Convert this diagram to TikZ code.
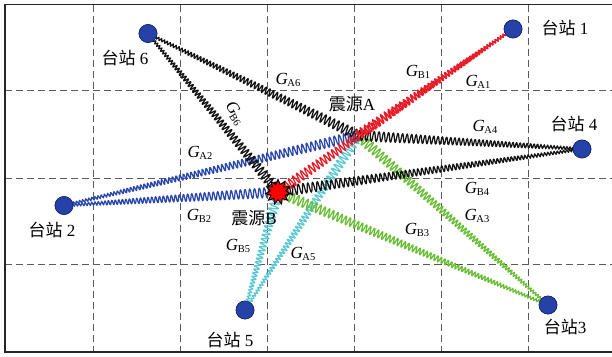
\documentclass[tikz,border=0pt]{standalone}
\usepackage{fontspec}
\setmainfont{Liberation Serif}
\newfontfamily\cjk{Noto Sans CJK SC}
\usetikzlibrary{decorations,shapes.geometric}
\pgfkeys{/pgf/decoration/end amplitude/.initial=1pt}
\newcommand\tapcalc{%
  \pgfmathsetmacro\tapfrac{\pgfdecoratedcompleteddistance/\pgfdecoratedpathlength}%
  \pgfmathsetlengthmacro\tapamp{\pgfdecorationsegmentamplitude+(\pgfkeysvalueof{/pgf/decoration/end amplitude}-\pgfdecorationsegmentamplitude)*\tapfrac}%
  \pgfmathsetlengthmacro\tapw{0.5*\pgfdecorationsegmentlength*(1-0.4*\tapfrac)}%
}
\pgfdeclaredecoration{taperwave}{up}{%
  \state{up}[width=0.5*\pgfdecorationsegmentlength*(1-0.4*\pgfdecoratedcompleteddistance/\pgfdecoratedpathlength), next state=down]{%
    \tapcalc
    \pgfpathcurveto{\pgfpoint{0.3*\tapw}{1.333*\tapamp}}{\pgfpoint{0.7*\tapw}{1.333*\tapamp}}{\pgfpoint{\tapw}{0pt}}%
  }%
  \state{down}[width=0.5*\pgfdecorationsegmentlength*(1-0.4*\pgfdecoratedcompleteddistance/\pgfdecoratedpathlength), next state=up]{%
    \tapcalc
    \pgfpathcurveto{\pgfpoint{0.3*\tapw}{-1.333*\tapamp}}{\pgfpoint{0.7*\tapw}{-1.333*\tapamp}}{\pgfpoint{\tapw}{0pt}}%
  }%
  \state{final}{\pgfpathlineto{\pgfpointdecoratedpathlast}}%
}
\definecolor{wred}{RGB}{232,28,40}
\definecolor{wblue}{RGB}{42,72,172}
\definecolor{wgreen}{RGB}{104,190,52}
\definecolor{wcyan}{RGB}{92,200,212}
\definecolor{wblack}{RGB}{20,20,20}
\definecolor{stfill}{RGB}{36,66,168}
\definecolor{stedge}{RGB}{24,40,110}
\definecolor{gridc}{RGB}{90,90,90}
\newcommand\gl[1]{\textit{G}\kern-0.5pt\raisebox{-0.35ex}{\fontsize{10.5}{10.5}\selectfont #1}}
\tikzset{
  spring/.style={line width=1.25pt, line join=round,
    decorate, decoration={taperwave, amplitude=5.3pt, segment length=5pt, end amplitude=1.2pt}},
  station/.style={circle, fill=stfill, draw=stedge, line width=0.6pt, minimum size=18pt, inner sep=0pt},
  burst/.style={star, star points=11, star point ratio=1.6, fill=red, draw=black, line width=1pt, minimum size=25pt, inner sep=0pt},
  gridline/.style={gridc, line width=0.7pt, dash pattern=on 7pt off 4pt},
  lab/.style={font=\fontsize{17}{17}\selectfont, inner sep=0pt},
  glab/.style={font=\fontsize{17}{17}\selectfont, inner sep=0pt}
}
\begin{document}
\begin{tikzpicture}[x=1pt,y=-1pt]
\useasboundingbox (0,0) rectangle (612,356);
\fill[white] (0,0) rectangle (612,356);
% grid
\foreach \gx in {93.7,180.3,267.8,354.4,441,528.5}
  \draw[gridline] (\gx,4.5) -- (\gx,352);
\foreach \gy in {90.3,178,264.7}
  \draw[gridline] (5,\gy) -- (612,\gy);
% frame
\draw[line width=1.1pt, black!85] (612,4.5) -- (5,4.5) -- (5,352) -- (612,352);
% nodes
\coordinate (A) at (358,135.5);
\coordinate (B) at (278,192);
\node[station] (s1) at (513,29) {};
\node[station] (s2) at (64,205.5) {};
\node[station] (s3) at (548,305) {};
\node[station] (s4) at (582,149) {};
\node[station] (s5) at (245,310) {};
\node[station] (s6) at (148,33.5) {};
% springs
\draw[spring, wcyan] (A) -- (s5.center);
\draw[spring, wcyan] (B) -- (s5.center);
\draw[spring, wgreen] (A) -- (s3.center);
\draw[spring, wgreen] (B) -- (s3.center);
\draw[spring, wblue] (A) -- (s2.center);
\draw[spring, wblue] (B) -- (s2.center);
\draw[spring, wblack] (A) -- (s6.center);
\draw[spring, wblack] (B) -- (s6.center);
\draw[spring, wblack] (A) -- (s4.center);
\draw[spring, wblack] (B) -- (s4.center);
\draw[spring, wred] (B) -- (s1.center);
\draw[spring, wred] (A) -- (s1.center);
% redraw stations on top
\foreach \s in {s1,s2,s3,s4,s5,s6}
  \node[station] at (\s) {};
\node[burst] (Bb) at (B) {};
% labels
\node[lab] (l1) at (565,28) {{\cjk 台站} 1};
\node[lab] (l6) at (125,58) {{\cjk 台站} 6};
\node[lab] (l4) at (574,124) {{\cjk 台站} 4};
\node[lab] (l2) at (52,230) {{\cjk 台站} 2};
\node[lab] (l5) at (230,340) {{\cjk 台站} 5};
\node[lab] (l3) at (565,327) {{\cjk 台站}3};
\node[lab] (lA) at (352,104) {{\cjk 震源}A};
\node[lab] (lB) at (254,218) {{\cjk 震源}B};
% G labels
\node[glab] (gA6) at (288,80) {\gl{A6}};
\node[glab, rotate=-58] (gB6) at (235,113) {\gl{B6}};
\node[glab] (gB1) at (418,72) {\gl{B1}};
\node[glab] (gA1) at (478,82) {\gl{A1}};
\node[glab] (gA4) at (485,127) {\gl{A4}};
\node[glab] (gA2) at (200,153) {\gl{A2}};
\node[glab] (gB4) at (477,189) {\gl{B4}};
\node[glab] (gA3) at (477,216) {\gl{A3}};
\node[glab] (gB2) at (199,216) {\gl{B2}};
\node[glab] (gB3) at (417,230) {\gl{B3}};
\node[glab] (gB5) at (238,246) {\gl{B5}};
\node[glab] (gA5) at (303,254) {\gl{A5}};
\end{tikzpicture}
\end{document}
